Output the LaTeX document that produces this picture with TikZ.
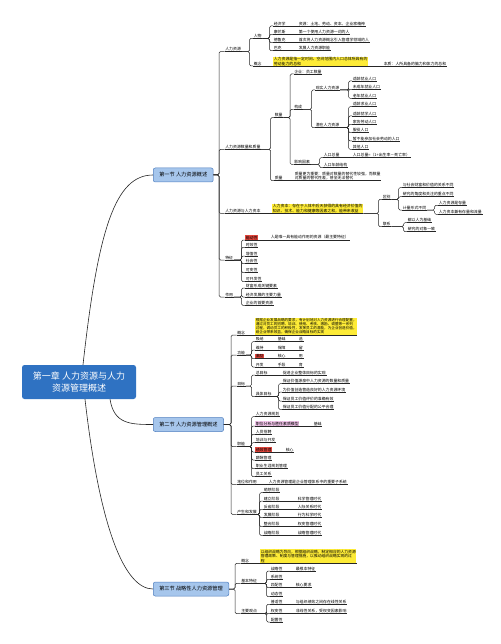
\documentclass[tikz,border=0pt]{standalone}
\usepackage{fontspec}
\setmainfont{Noto Sans CJK SC}
\definecolor{rootblue}{HTML}{2F72C2}
\definecolor{secfill}{HTML}{A6C6EC}
\definecolor{secdraw}{HTML}{4F7FC0}
\definecolor{hlyellow}{HTML}{FDEB37}
\definecolor{hlred}{HTML}{E5473D}
\definecolor{hlpink}{HTML}{F2C4EA}
\definecolor{lncol}{HTML}{262626}
\tikzset{
 tx/.style={anchor=south west,inner xsep=0.6pt,inner ysep=0.45pt,font=\fontsize{3.9}{4.6}\selectfont},
 yb/.style={fill=hlyellow,align=left},
 ys/.style={fill=hlyellow,align=left,font=\fontsize{3.6}{4.0}\selectfont},
 hr/.style={fill=hlred},
 hp/.style={fill=hlpink},
 ln/.style={draw=lncol,line width=0.5pt},
 br/.style={ln,rounded corners=1.4pt},
 sec/.style={anchor=west,draw=secdraw,fill=secfill,rounded corners=2pt,line width=0.5pt,minimum height=14pt,inner xsep=6pt,font=\fontsize{5.2}{6}\selectfont},
 rootbox/.style={fill=rootblue,rounded corners=2.5pt,text=white,align=center,minimum width=114pt,minimum height=34pt,font=\fontsize{9}{11.5}\selectfont},
 trunk/.style={draw=lncol,line width=0.6pt}
}
\newcommand\mmT[4][]{\node[tx,#1] (#2) at #3 {#4};\draw[ln] (#2.south west) -- (#2.south east);}
\newcommand\mmB[3][3.5pt]{\draw[br] (#2) -| ([xshift=-#1]#3.south west) -- (#3.south west);}
\newcommand\mmL[2]{\draw[ln] (#1.south east) -- (#2.south west);}
\begin{document}
\begin{tikzpicture}[x=1pt,y=-1pt]
\fill[white] (0,0) rectangle (500,644);
\useasboundingbox (0,0) rectangle (500,644);

% root and sections
\node[rootbox] (r) at (79,382) {第一章 人力资源与人力\\资源管理概述};
\node[sec] (s1) at (153,175) {第一节 人力资源概述};
\node[sec] (s2) at (153,424.5) {第二节 人力资源管理概述};
\node[sec] (s3) at (153,589) {第三节 战略性人力资源管理};
\draw[trunk] ([xshift=4pt]r.north) .. controls (98,230) and (115,175) .. (s1.west);
\draw[trunk] ([xshift=31pt]r.south) .. controls (114,424) and (130,424.5) .. (s2.west);
\draw[trunk] ([xshift=6pt]r.south) .. controls (100,530) and (125,589) .. (s3.west);

% ===== Section 1 =====
\mmT{a1}{(224.5,51.7)}{人力资源}
\mmT{a11}{(253,38.3)}{人物}
\mmT{a111}{(273,26)}{经济学}\mmT{a111d}{(298,26)}{资源：土地、劳动、资本、企业家精神}
\mmT{a112}{(273,34.3)}{康芒斯}\mmT{a112d}{(298,34.3)}{第一个使用人力资源一词的人}
\mmT{a113}{(273,42.7)}{德鲁克}\mmT{a113d}{(298,42.7)}{首次将人力资源概念引入管理学领域的人}
\mmT{a114}{(273,50.7)}{巴克}\mmT{a114d}{(298,50.7)}{发展人力资源职能}
\mmT{a12}{(253,66)}{概念}
\mmT[yb]{a12y}{(273,66)}{人力资源是指一定时间、空间范围内人口总体所具有的\\劳动能力的总和}
\mmT{a12d}{(383,66)}{本质：人所具备的脑力和体力的总和}
\mmB{a1.south east}{a11}\mmB{a1.south east}{a12}
\mmB{a11.south east}{a111}\mmB{a11.south east}{a112}\mmB{a11.south east}{a113}\mmB{a11.south east}{a114}
\mmL{a111}{a111d}\mmL{a112}{a112d}\mmL{a113}{a113d}\mmL{a114}{a114d}
\mmL{a12}{a12y}\mmL{a12y}{a12d}

\mmT{a2}{(224.5,149.3)}{人力资源数量和质量}
\mmT{a21}{(274,117.7)}{数量}
\mmT{a211}{(293.5,74)}{企业：员工数量}
\mmT{a212}{(293.5,109.4)}{构成}
\mmT{a2121}{(315,90)}{现实人力资源}
\mmT{p1}{(352,81)}{适龄就业人口}
\mmT{p2}{(352,89.4)}{未成年就业人口}
\mmT{p3}{(352,98.3)}{老年就业人口}
\mmT{a2122}{(315,127.7)}{潜在人力资源}
\mmT{q1}{(352,106.7)}{适龄求业人口}
\mmT{q2}{(352,116)}{适龄就学人口}
\mmT{q3}{(352,124.3)}{家务劳动人口}
\mmT{q4}{(352,132.7)}{服役人口}
\mmT{q5}{(352,141)}{暂不能参加社会劳动的人口}
\mmT{q6}{(352,149.3)}{其他人口}
\mmT{a213}{(293.5,164.3)}{影响因素}
\mmT{a2131}{(323,157.7)}{人口总量}
\mmT{a2131d}{(352,157.7)}{人口总量=（1+出生率－死亡率）}
\mmT{a2132}{(323,167.7)}{人口年龄结构}
\mmT{a22}{(274,180.7)}{质量}
\mmT[align=left]{a22d}{(294,180.7)}{质量更为重要：质量对数量的替代性较强，而数量\\对质量的替代性差，甚至无法替代}
\mmB{a2.south east}{a21}\mmB{a2.south east}{a22}
\mmB{a21.south east}{a211}\mmB{a21.south east}{a212}\mmB{a21.south east}{a213}
\mmB{a212.south east}{a2121}\mmB{a212.south east}{a2122}
\mmB{a2121.south east}{p1}\mmB{a2121.south east}{p2}\mmB{a2121.south east}{p3}
\mmB{a2122.south east}{q1}\mmB{a2122.south east}{q2}\mmB{a2122.south east}{q3}
\mmB{a2122.south east}{q4}\mmB{a2122.south east}{q5}\mmB{a2122.south east}{q6}
\mmB{a213.south east}{a2131}\mmB{a213.south east}{a2132}
\mmL{a2131}{a2131d}\mmL{a22}{a22d}

\mmT{a3}{(224.5,213.3)}{人力资源与人力资本}
\mmT[yb]{a3y}{(272,213.3)}{人力资本：存在于人体中后天获得的具有经济价值的\\知识、技术、能力和健康等因素之和，能带来收益}
\mmT{a31}{(382,199.3)}{区别}
\mmT{a311}{(402,187.7)}{与社会财富和价值的关系不同}
\mmT{a312}{(402,196.7)}{研究的角度和关注的重点不同}
\mmT{a313}{(402,210)}{计量形式不同}
\mmT{a3131}{(438,205.3)}{人力资源是存量}
\mmT{a3132}{(438,214.3)}{人力资本兼有存量和流量}
\mmT{a32}{(382,226.7)}{联系}
\mmT{a321}{(407,222.7)}{都以人为基础}
\mmT{a322}{(407,231.7)}{研究的对象一致}
\mmL{a3}{a3y}
\mmB{a3y.south east}{a31}\mmB{a3y.south east}{a32}
\mmB{a31.south east}{a311}\mmB{a31.south east}{a312}\mmB{a31.south east}{a313}
\mmB{a313.south east}{a3131}\mmB{a313.south east}{a3132}
\mmB{a32.south east}{a321}\mmB{a32.south east}{a322}

\mmT{a4}{(224.5,260)}{特征}
\mmT[hr]{a41}{(245,240)}{能动性}
\mmT{a41d}{(270,240)}{人是唯一具有能动作用的资源（最主要特征）}
\mmT{a42}{(245,247.4)}{时效性}
\mmT{a43}{(245,256)}{增值性}
\mmT{a44}{(245,263.7)}{社会性}
\mmT{a45}{(245,272.7)}{可变性}
\mmT{a46}{(245,281.7)}{可开发性}
\mmB{a4.south east}{a41}\mmB{a4.south east}{a42}\mmB{a4.south east}{a43}
\mmB{a4.south east}{a44}\mmB{a4.south east}{a45}\mmB{a4.south east}{a46}
\mmL{a41}{a41d}

\mmT{a5}{(224.5,297)}{作用}
\mmT{a51}{(245,288)}{财富形成关键要素}
\mmT{a52}{(245,297)}{经济发展的主要力量}
\mmT{a53}{(245,305.4)}{企业的首要资源}
\mmB{a5.south east}{a51}\mmB{a5.south east}{a52}\mmB{a5.south east}{a53}

\mmB[5.5pt]{s1.east}{a1}\mmB[5.5pt]{s1.east}{a2}\mmB[5.5pt]{s1.east}{a3}
\mmB[5.5pt]{s1.east}{a4}\mmB[5.5pt]{s1.east}{a5}

% ===== Section 2 =====
\mmT{b1}{(236.5,335)}{概念}
\mmT[ys]{b1y}{(255,335)}{根据企业发展战略的要求，有计划地对人力资源进行合理配置，\\通过对员工的招聘、培训、使用、考核、激励、调整等一系列\\过程，调动员工的积极性，发挥员工的潜能，为企业创造价值，\\给企业带来效益，确保企业战略目标的实现}
\mmL{b1}{b1y}

\mmT{b2}{(236.5,355)}{功能}
\mmT{b21}{(255,341.7)}{吸纳}\mmT{b21m}{(277,341.7)}{基础}\mmT{b21r}{(298,341.7)}{选}
\mmT{b22}{(255,350)}{维持}\mmT{b22m}{(277,350)}{保障}\mmT{b22r}{(298,350)}{留}
\mmT[hr]{b23}{(255,358.7)}{激励}\mmT{b23m}{(277,358.7)}{核心}\mmT{b23r}{(298,358.7)}{用}
\mmT{b24}{(255,367)}{开发}\mmT{b24m}{(277,367)}{手段}\mmT{b24r}{(298,367)}{育}
\mmB{b2.south east}{b21}\mmB{b2.south east}{b22}\mmB{b2.south east}{b23}\mmB{b2.south east}{b24}
\mmL{b21}{b21m}\mmL{b21m}{b21r}\mmL{b22}{b22m}\mmL{b22m}{b22r}
\mmL{b23}{b23m}\mmL{b23m}{b23r}\mmL{b24}{b24m}\mmL{b24m}{b24r}

\mmT{b3}{(236.5,386)}{目标}
\mmT{b31}{(255,375)}{总目标}
\mmT{b31d}{(282,375)}{促进企业整体目标的实现}
\mmT{b32}{(255,396.7)}{具体目标}
\mmT{b321}{(282,383.7)}{保证价值源泉中人力资源的数量和质量}
\mmT{b322}{(282,392)}{为价值创造营造良好的人力资源环境}
\mmT{b323}{(282,401)}{保证员工价值评价的准确有效}
\mmT{b324}{(282,409.4)}{保证员工价值分配的公平合理}
\mmB{b3.south east}{b31}\mmB{b3.south east}{b32}\mmL{b31}{b31d}
\mmB{b32.south east}{b321}\mmB{b32.south east}{b322}\mmB{b32.south east}{b323}\mmB{b32.south east}{b324}

\mmT{b4}{(236.5,446.7)}{职能}
\mmT{b41}{(255,416.7)}{人力资源规划}
\mmT[hp]{b42}{(255,426)}{职位分析与胜任素质模型}\mmT{b42d}{(313,426)}{基础}
\mmT{b43}{(255,434.4)}{人员招聘}
\mmT{b44}{(255,442.7)}{培训与开发}
\mmT[hr]{b45}{(255,452)}{绩效管理}\mmT{b45d}{(285,452)}{核心}
\mmT{b46}{(255,460)}{薪酬管理}
\mmT{b47}{(255,468.7)}{职业生涯规划管理}
\mmT{b48}{(255,476.7)}{员工关系}
\mmB{b4.south east}{b41}\mmB{b4.south east}{b42}\mmB{b4.south east}{b43}\mmB{b4.south east}{b44}
\mmB{b4.south east}{b45}\mmB{b4.south east}{b46}\mmB{b4.south east}{b47}\mmB{b4.south east}{b48}
\mmL{b42}{b42d}\mmL{b45}{b45d}

\mmT{b5}{(236.5,484.3)}{地位和作用}
\mmT{b5d}{(268,484.3)}{人力资源管理是企业管理体系中的重要子系统}
\mmL{b5}{b5d}

\mmT{b6}{(236.5,514.3)}{产生和发展}
\mmT{b61}{(263,492.7)}{萌芽阶段}
\mmT{b62}{(263,501)}{建立阶段}\mmT{b62d}{(297,501)}{科学管理时代}
\mmT{b63}{(263,509.4)}{反省阶段}\mmT{b63d}{(297,509.4)}{人际关系时代}
\mmT{b64}{(263,517.7)}{发展阶段}\mmT{b64d}{(297,517.7)}{行为科学时代}
\mmT{b65}{(263,526.7)}{整合阶段}\mmT{b65d}{(297,526.7)}{权变管理时代}
\mmT{b66}{(263,535.4)}{战略阶段}\mmT{b66d}{(297,535.4)}{战略管理时代}
\mmB{b6.south east}{b61}\mmB{b6.south east}{b62}\mmB{b6.south east}{b63}
\mmB{b6.south east}{b64}\mmB{b6.south east}{b65}\mmB{b6.south east}{b66}
\mmL{b62}{b62d}\mmL{b63}{b63d}\mmL{b64}{b64d}\mmL{b65}{b65d}\mmL{b66}{b66d}

\mmB[5.5pt]{s2.east}{b1}\mmB[5.5pt]{s2.east}{b2}\mmB[5.5pt]{s2.east}{b3}
\mmB[5.5pt]{s2.east}{b4}\mmB[5.5pt]{s2.east}{b5}\mmB[5.5pt]{s2.east}{b6}

% ===== Section 3 =====
\mmT{c1}{(240.5,563.3)}{概念}
\mmT[yb,font=\fontsize{3.8}{4.6}\selectfont]{c1y}{(260,563.3)}{以组织战略为导向，根据组织战略，制定相应的人力资源\\管理政策、制度与管理措施，以推动组织战略实现的过\\程}
\mmL{c1}{c1y}

\mmT{c2}{(240.5,583.3)}{基本特征}
\mmT{c21}{(270,571)}{战略性}\mmT{c21d}{(295,571)}{最根本特征}
\mmT{c22}{(270,579.4)}{系统性}
\mmT{c23}{(270,587.7)}{匹配性}\mmT{c23d}{(295,587.7)}{核心要求}
\mmT{c24}{(270,596.7)}{动态性}
\mmB{c2.south east}{c21}\mmB{c2.south east}{c22}\mmB{c2.south east}{c23}\mmB{c2.south east}{c24}
\mmL{c21}{c21d}\mmL{c23}{c23d}

\mmT{c3}{(240.5,613.7)}{主要观点}
\mmT{c31}{(270,604.4)}{普适性}\mmT{c31d}{(295,604.4)}{与组织绩效之间存在线性关系}
\mmT{c32}{(270,613.4)}{权变性}\mmT{c32d}{(295,613.4)}{非线性关系，受权变因素影响}
\mmT{c33}{(270,622)}{配置性}
\mmB{c3.south east}{c31}\mmB{c3.south east}{c32}\mmB{c3.south east}{c33}
\mmL{c31}{c31d}\mmL{c32}{c32d}

\mmB[5.5pt]{s3.east}{c1}\mmB[5.5pt]{s3.east}{c2}\mmB[5.5pt]{s3.east}{c3}
\end{tikzpicture}
\end{document}
